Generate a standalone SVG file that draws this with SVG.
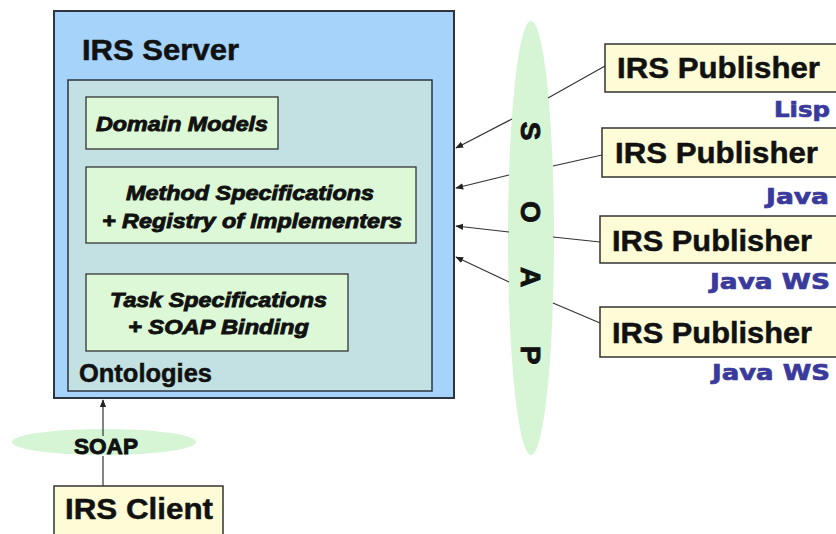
<svg xmlns="http://www.w3.org/2000/svg" width="836" height="534" viewBox="0 0 836 534">
<defs>
<style>
.t{font-family:"Liberation Sans",Arial,sans-serif;font-weight:bold;fill:#111;stroke:#111;stroke-width:0.5}
.i{font-style:italic;font-size:21px;stroke-width:0.9}
.h{stroke-width:0.9}
.lab{font-family:"DejaVu Sans",Verdana,sans-serif;font-weight:bold;font-size:22px;fill:#3a3a9c;stroke:#3a3a9c;stroke-width:0.7}
.pub{fill:#fdfcd6;stroke:#333;stroke-width:1.5}
.grn{fill:#dcf8d6;stroke:#333;stroke-width:1.3}
.soap{fill:#d5f5d5}
.c{stroke:#333;stroke-width:1.2;fill:none}
</style>
<marker id="ah" viewBox="0 0 10 10" refX="9" refY="5" markerWidth="8" markerHeight="8" markerUnits="userSpaceOnUse" orient="auto">
<path d="M0,1 L10,5 L0,9 z" fill="#222"/>
</marker>
</defs>
<rect width="836" height="534" fill="#fff"/>

<g id="server">
<rect x="54" y="11" width="400" height="387" fill="#a6d3fa" stroke="#2e3440" stroke-width="2"/>
<text class="t" x="82" y="60" font-size="29" textLength="157" lengthAdjust="spacingAndGlyphs">IRS Server</text>
</g>
<g id="ontologies">
<rect x="68" y="80" width="364" height="311" fill="#c3e1e3" stroke="#2e3440" stroke-width="1.5"/>
<text class="t" x="79" y="382" font-size="25" textLength="133" lengthAdjust="spacingAndGlyphs">Ontologies</text>
</g>
<g id="domain-models">
<rect class="grn" x="86" y="97" width="192" height="52"/>
<text class="t i" x="96" y="131" textLength="172" lengthAdjust="spacingAndGlyphs">Domain Models</text>
</g>
<g id="method-specs">
<rect class="grn" x="86" y="167" width="330" height="76"/>
<text class="t i" x="126" y="200" textLength="248" lengthAdjust="spacingAndGlyphs">Method Specifications</text>
<text class="t i" x="102" y="228" textLength="300" lengthAdjust="spacingAndGlyphs">+ Registry of Implementers</text>
</g>
<g id="task-specs">
<rect class="grn" x="86" y="274" width="262" height="77"/>
<text class="t i" x="110" y="307" textLength="217" lengthAdjust="spacingAndGlyphs">Task Specifications</text>
<text class="t i" x="128" y="334" textLength="181" lengthAdjust="spacingAndGlyphs">+ SOAP Binding</text>
</g>

<g id="soap-vertical">
<ellipse class="soap" cx="531" cy="238" rx="23" ry="217"/>
<g class="t h" font-size="28" text-anchor="middle">
<text transform="translate(531,131) rotate(90)" y="10">S</text>
<text transform="translate(531,212) rotate(90)" y="10">O</text>
<text transform="translate(531,277) rotate(90)" y="10">A</text>
<text transform="translate(531,355) rotate(90)" y="10">P</text>
</g>
</g>

<g id="publisher-lisp">
<rect class="pub" x="605" y="44" width="240" height="48"/>
<text class="t" x="617" y="78" font-size="29" textLength="203" lengthAdjust="spacingAndGlyphs">IRS Publisher</text>
<text class="lab" x="830" y="117" text-anchor="end" textLength="56" lengthAdjust="spacingAndGlyphs">Lisp</text>
</g>
<g id="publisher-java">
<rect class="pub" x="602" y="128" width="240" height="49"/>
<text class="t" x="615" y="163" font-size="29" textLength="203" lengthAdjust="spacingAndGlyphs">IRS Publisher</text>
<text class="lab" x="829" y="204" text-anchor="end" textLength="63" lengthAdjust="spacingAndGlyphs">Java</text>
</g>
<g id="publisher-javaws-1">
<rect class="pub" x="600" y="216" width="240" height="47"/>
<text class="t" x="612" y="251" font-size="29" textLength="200" lengthAdjust="spacingAndGlyphs">IRS Publisher</text>
<text class="lab" x="830" y="289" text-anchor="end" textLength="120" lengthAdjust="spacingAndGlyphs">Java WS</text>
</g>
<g id="publisher-javaws-2">
<rect class="pub" x="600" y="307" width="240" height="50"/>
<text class="t" x="612" y="343" font-size="29" textLength="200" lengthAdjust="spacingAndGlyphs">IRS Publisher</text>
<text class="lab" x="830" y="380" text-anchor="end" textLength="118" lengthAdjust="spacingAndGlyphs">Java WS</text>
</g>

<g id="soap-bottom">
<ellipse class="soap" cx="104" cy="442" rx="92" ry="13"/>
</g>
<g id="client">
<rect class="pub" x="54" y="486" width="169" height="60"/>
<text class="t" x="65" y="519" font-size="29" textLength="148" lengthAdjust="spacingAndGlyphs">IRS Client</text>
</g>

<g id="connectors">
<path class="c" d="M512,119 L456,148" marker-end="url(#ah)"/>
<path class="c" d="M509,175 L456,188" marker-end="url(#ah)"/>
<path class="c" d="M509,232 L456,226" marker-end="url(#ah)"/>
<path class="c" d="M509,282 L456,257" marker-end="url(#ah)"/>
<path class="c" d="M548,98 L605,66"/>
<path class="c" d="M553,166 L602,155"/>
<path class="c" d="M553,237 L600,242"/>
<path class="c" d="M553,303 L600,323"/>
<path class="c" d="M103,486 L103,456"/>
<path class="c" d="M103,436 L103,400" marker-end="url(#ah)"/>
</g>
<text class="t h" x="74" y="454" font-size="22" textLength="64" lengthAdjust="spacingAndGlyphs">SOAP</text>
</svg>
